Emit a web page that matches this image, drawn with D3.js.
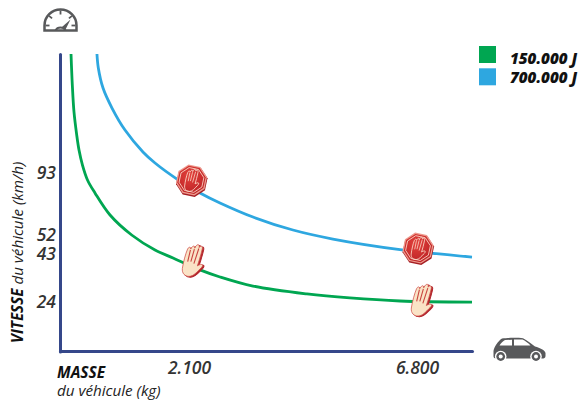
<!DOCTYPE html>
<html>
<head>
<meta charset="utf-8">
<script src="https://cdn.jsdelivr.net/npm/d3@7"></script>
<style>
html,body{margin:0;padding:0;background:#fff}
text{font-family:"Open Sans",sans-serif;font-style:italic}
.tick text{font-size:17.5px;font-weight:600;fill:#333}
</style>
</head>
<body>
<svg id="chart"></svg>
<script>
// values
var massTicks = [2100,6800]
var massTickLabels = ["2.100","6.800"]
var speedTicks = [24,43,52,93]

var lowMass = [178,199,226,270,307,363,444,565,808,1158,1535,1826,2306,2718,3398,4510,5396,6430,7912]
var lowSpeed = [180,157.3,137.6,120.8,109.8,98.8,88.4,79.8,65.2,52,44.9,41.4,36.7,33.9,30.3,27.2,25.6,24.4,23.9]
var highMass = [597,619,695,840,1050,1340,1535,1890,2306,2718,3398,4222,5046,6430,7912]
var highSpeed = [180,169.8,155.1,140.5,124.4,108.4,100.3,89,79.8,73.2,63.9,55.3,50.1,45.1,41.8]

var stopMass = [2130,6800]
var stopSpeed = [88.4,45.8]
var handMass = [2150,6870]
var handSpeed = [40.6,24.9]

var legendLabels = ["150.000 J","700.000 J"]
var legendColors = ["#00a651","#2ea7e0"]

var screen = {width:579,height:400}
var svg = d3.select("#chart").attr("width",screen.width).attr("height",screen.height)
    .style("display","block")

// the axes of the original are schematic, so both scales are piecewise
var xScale = d3.scaleLinear()
    .domain([0,2100,6800,7912])
    .range([60,190,418,472])
var yScale = d3.scaleLinear()
    .domain([0,24,43,52,93,180])
    .range([351.5,302,254,235,173,54])

var line = d3.line()
    .x(function(d){ return xScale(d[0]) })
    .y(function(d){ return yScale(d[1]) })
    .curve(d3.curveCatmullRom)

var series = [
    {mass:lowMass,speed:lowSpeed,color:legendColors[0]},
    {mass:highMass,speed:highSpeed,color:legendColors[1]}
]

svg.selectAll("path.curve").data(series).enter().append("path")
    .attr("class","curve")
    .attr("fill","none")
    .attr("stroke",function(d){ return d.color })
    .attr("stroke-width",2.8)
    .attr("d",function(d){ return line(d3.zip(d.mass,d.speed)) })

// axes
var xAxis = d3.axisBottom(xScale).tickValues(massTicks).tickSize(0).tickPadding(11)
    .tickFormat(function(d,i){ return massTickLabels[i] })
var yAxis = d3.axisLeft(yScale).tickValues(speedTicks).tickSize(0).tickPadding(4)

var gx = svg.append("g").attr("transform","translate(0,351)").call(xAxis)
var gy = svg.append("g").attr("transform","translate(60,0)").call(yAxis)
svg.selectAll(".domain").attr("stroke","#35478a").attr("stroke-width",3).attr("stroke-linecap","round")
gx.selectAll(".tick text").attr("dx",-1)
svg.selectAll(".tick text").attr("font-family",null)

// axis titles
var massTitle = svg.append("g")
massTitle.append("text").attr("x",57).attr("y",377.5)
    .style("font-size","15.5px").style("font-weight",700).attr("fill","#111").text("MASSE")
massTitle.append("text").attr("x",57).attr("y",396)
    .style("font-size","15.2px").attr("fill","#222").text("du véhicule (kg)")

var speedTitle = svg.append("text")
    .attr("transform","translate(22.5,343) rotate(-90)")
    .style("font-size","15.2px").attr("fill","#222")
speedTitle.append("tspan").style("font-weight",700).attr("fill","#111").text("VITESSE")
speedTitle.append("tspan").text(" du véhicule (km/h)")

// legend
var legend = svg.selectAll("g.legend").data(legendLabels).enter().append("g")
    .attr("class","legend")
    .attr("transform",function(d,i){ return "translate(479,"+(46+i*22.3)+")" })
legend.append("rect").attr("width",17).attr("height",17)
    .attr("fill",function(d,i){ return legendColors[i] })
legend.append("text").attr("x",31).attr("y",function(d,i){ return 17.5-i*3 })
    .style("font-size","15.2px").style("font-weight",800).attr("fill","#111")
    .text(function(d){ return d })

// markers
var handOutline = "M-7,11 C-8,5 -8.5,-4 -8,-9 C-7.5,-12 -5.5,-12 -5,-10 C-4.5,-14 -2,-15 -1.5,-12 C-1,-17 2,-18 2.5,-14 C3.5,-17 6,-16.5 6,-12.5 C6.5,-7 6.5,-1 6.5,4 C8,2 10,1 11,1.5 C12,2.5 11,4.5 10,6 C8,10 6,15 2,16.5 C-2,18 -6,16 -7,11 Z"
var fingerLines = "M-5,-9 L-4,3 M-1.5,-11 L-1,2 M2.5,-13 L2.5,3"

var defs = svg.append("defs")
var grad = defs.append("radialGradient").attr("id","stopFill").attr("cx","40%").attr("cy","35%").attr("r","75%")
grad.append("stop").attr("offset","0%").attr("stop-color","#e2403a")
grad.append("stop").attr("offset","100%").attr("stop-color","#bb2226")

var octagon = function(r){
    var pts = d3.range(8).map(function(i){
        var a = Math.PI/8+i*Math.PI/4
        return [r*Math.cos(a),r*Math.sin(a)]
    })
    return "M"+pts.join("L")+"Z"
}

var stops = svg.selectAll("g.stop").data(d3.zip(stopMass,stopSpeed)).enter().append("g")
    .attr("class","stop")
    .attr("transform",function(d){ return "translate("+xScale(d[0])+","+yScale(d[1])+") rotate(12)" })
stops.append("path").attr("d",octagon(16)).attr("transform","translate(0.6,1.2)").attr("fill","#a51f24")
stops.append("path").attr("d",octagon(15.8)).attr("fill","#ee9a8e")
stops.append("path").attr("d",octagon(14.4)).attr("fill","url(#stopFill)")
stops.append("path").attr("d",octagon(12.6)).attr("fill","none").attr("stroke","#fbd9c8").attr("stroke-width",0.8)
stops.append("path").attr("d",handOutline).attr("transform","rotate(4) scale(0.7)")
    .attr("fill","none").attr("stroke","#fbdccb").attr("stroke-width",1.1)
stops.append("path").attr("d",fingerLines).attr("transform","rotate(4) scale(0.7)")
    .attr("fill","none").attr("stroke","#fbdccb").attr("stroke-width",1)

var hands = svg.selectAll("g.hand").data(d3.zip(handMass,handSpeed)).enter().append("g")
    .attr("class","hand")
    .attr("transform",function(d){ return "translate("+xScale(d[0])+","+yScale(d[1])+") rotate(18)" })
hands.append("path").attr("d",handOutline).attr("transform","translate(1.6,0.3)")
    .attr("fill","#b3272d").attr("stroke","#b3272d").attr("stroke-width",1)
hands.append("path").attr("d",handOutline)
    .attr("fill","#fae3c6").attr("stroke","#d0534c").attr("stroke-width",0.7)
hands.append("path").attr("d",fingerLines)
    .attr("fill","none").attr("stroke","#c9443f").attr("stroke-width",1.1)

// speedometer icon
var gauge = svg.append("g").attr("transform","translate(60.5,30.5)")
    .attr("fill","none").attr("stroke","#58595b")
gauge.append("path").attr("d","M-16,0 V-5 A16,16 0 0 1 16,-5 V0 Z").attr("stroke-width",2.5)
gauge.selectAll("line.mark").data([-90,-50,0,50,90]).enter().append("line")
    .attr("class","mark").attr("stroke-width",1.8)
    .attr("x1",function(d){ return 15*Math.sin(d*Math.PI/180) })
    .attr("y1",function(d){ return -5-15*Math.cos(d*Math.PI/180) })
    .attr("x2",function(d){ return 11*Math.sin(d*Math.PI/180) })
    .attr("y2",function(d){ return -5-11*Math.cos(d*Math.PI/180) })
gauge.append("path").attr("d","M-5,0 A5.5,5 0 0 1 5,0").attr("stroke-width",2)
gauge.append("path").attr("d","M1.5,-3.5 L10,-11 L5,-1 Z").attr("fill","#58595b").attr("stroke","none")

// car icon
var car = svg.append("g").attr("transform","translate(493,338)")
car.append("path").attr("fill","#58595b")
    .attr("d","M0.5,18 L0.5,13 C1,9 5,3 9,0.5 C15,-0.3 25,-0.3 30,0.3 C34,2 38,6 42,8.5 C47,10 52,12 52.5,15 L52.5,18 C52.5,20 51,20.5 49,20.5 L3,20.5 C1,20.5 0.5,19.5 0.5,18 Z")
car.append("path").attr("fill","#fff")
    .attr("d","M6.5,7.5 C8,5 10,3 12,2 L19,1.8 L19,7.5 Z M21,1.6 L29.5,1.6 C32,2.6 35,5 37.5,7.5 L21,7.5 Z")
var wheels = car.selectAll("g.wheel").data([7.7,43]).enter().append("g")
    .attr("class","wheel")
    .attr("transform",function(d){ return "translate("+d+",18.5)" })
wheels.append("circle").attr("r",5.8).attr("fill","#fff")
wheels.append("circle").attr("r",4.4).attr("fill","#58595b")
wheels.append("circle").attr("r",2).attr("fill","#fff")
</script>
</body>
</html>
